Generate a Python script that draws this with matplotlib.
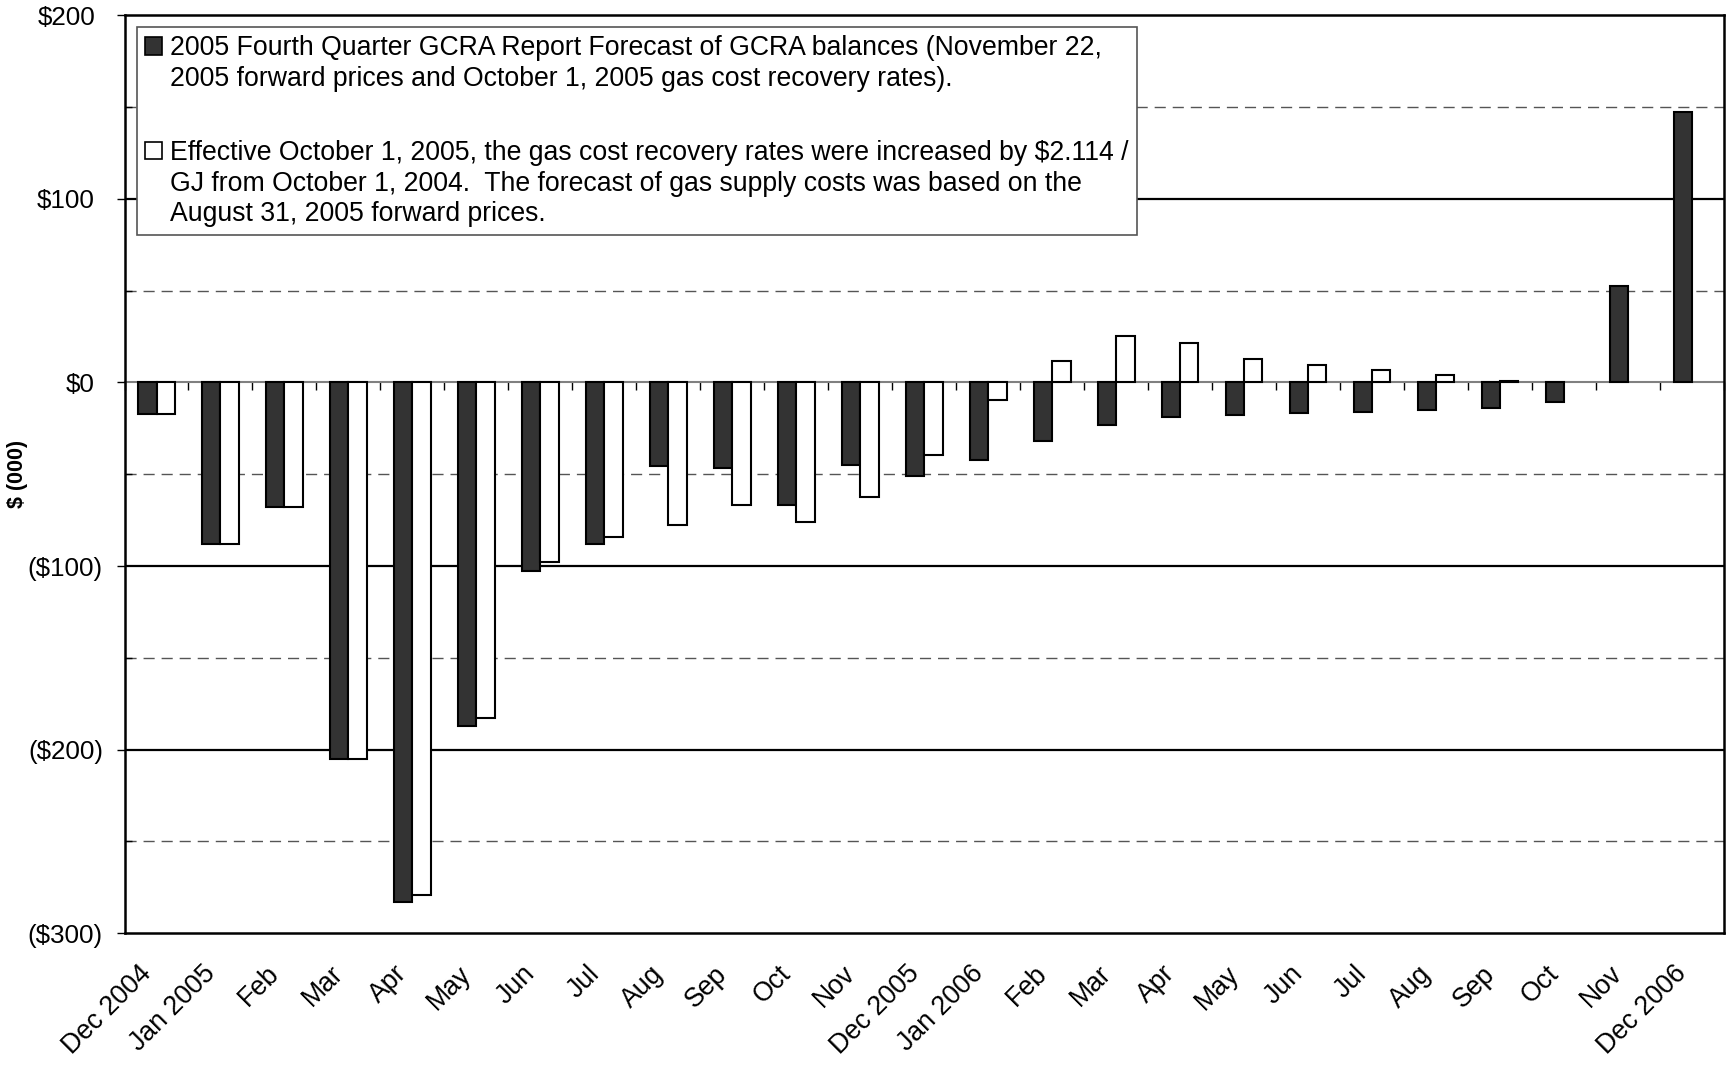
import numpy as np
import matplotlib
matplotlib.use("Agg")
import matplotlib.pyplot as plt
from matplotlib.patches import Patch
from matplotlib.ticker import MultipleLocator
from matplotlib.transforms import ScaledTranslation

plt.rcParams['font.family'] = ['Liberation Sans', 'DejaVu Sans']

# 月份類別
months = ['Dec 2004', 'Jan 2005', 'Feb', 'Mar', 'Apr', 'May', 'Jun', 'Jul', 'Aug',
          'Sep', 'Oct', 'Nov', 'Dec 2005', 'Jan 2006', 'Feb', 'Mar', 'Apr', 'May',
          'Jun', 'Jul', 'Aug', 'Sep', 'Oct', 'Nov', 'Dec 2006']

# 2005 Q4 forecast (dark bars), $000
q4_forecast = [-17, -88, -68, -205, -283, -187, -102.5, -88, -45.5, -46.5, -66.5, -45,
               -51, -42, -32, -23.3, -18.8, -17.5, -16.8, -16, -14.8, -14, -10.9, 52.5, 147.5]

# Oct 1 2005 rates / Aug 31 forward prices (white bars)
oct_rates = [-17, -88, -68, -205, -279.5, -183, -98, -84, -77.6, -66.7, -75.8, -62.6,
             -39.3, -9.6, 11.9, 25.3, 21.5, 12.7, 9.4, 6.8, 4.3, 0.8, np.nan, np.nan, np.nan]

y_ticks = [-300, -200, -100, 0, 100, 200]

legend_lines_1 = ['2005 Fourth Quarter GCRA Report Forecast of GCRA balances (November 22,',
                  '2005 forward prices and October 1, 2005 gas cost recovery rates).']
legend_lines_2 = ['Effective October 1, 2005, the gas cost recovery rates were increased by \\$2.114 /',
                  'GJ from October 1, 2004.  The forecast of gas supply costs was based on the',
                  'August 31, 2005 forward prices.']

FS = 19.2
dark = '#333333'


def money(v):
    if v >= 0:
        return f"${v:.0f}"
    return f"(${-v:.0f})"


fig = plt.figure(figsize=(17.27, 10.65), dpi=100)
ax = fig.add_axes([0.0721, 0.1239, 0.9262, 0.8616])

x = np.arange(len(months))
w = 1 / 3.5
ax.bar(x - w / 2, q4_forecast, w, color=dark, edgecolor='black', linewidth=1.5, zorder=3)
ax.bar(x + w / 2, oct_rates, w, color='white', edgecolor='black', linewidth=1.5, zorder=3)

ax.set_xlim(-0.5, len(months) - 0.5)
ax.set_ylim(-300, 200)

# 格線：實線在每 100，虛線在 50
for v in [-200, -100, 100]:
    ax.axhline(v, color='black', linewidth=1.6, zorder=1)
for v in np.arange(-250, 200, 100):
    ax.axhline(v, color='#555555', linewidth=1.0, linestyle=(0, (8, 5)), zorder=1)

ax.set_yticks(y_ticks, [money(v) for v in y_ticks])
ax.yaxis.set_minor_locator(MultipleLocator(50))
ax.tick_params(axis='y', which='major', direction='out', length=6, width=1, labelsize=18.7, pad=9.5)
ax.tick_params(axis='y', which='minor', direction='in', length=5, width=1)
# Excel 的 $#,##0_) 格式：正數標籤右邊留一個 ")" 的寬度
for t, v in zip(ax.yaxis.get_major_ticks(), y_ticks):
    if v >= 0:
        t.label1.set_transform(t.label1.get_transform() +
                               ScaledTranslation(-0.08, 0, fig.dpi_scale_trans))

ax.set_ylabel('$ (000)', fontsize=15.5, fontweight='bold')
ax.yaxis.set_label_coords(-0.0605, 0.5)

ax.set_xticks(x)
ax.set_xticklabels(months, rotation=45, ha='right', fontsize=FS)
ax.tick_params(axis='x', which='major', length=0, pad=20)

for s in ax.spines.values():
    s.set_linewidth(1.8)
    s.set_color('black')

# 零線 + 類別分隔刻度
sec = ax.secondary_xaxis(0, transform=ax.transData)
sec.set_alignment('bottom')
sec.set_xticks(np.arange(-0.5, len(months), 1))
sec.tick_params(axis='x', direction='out', length=6, width=1, labelbottom=False, labeltop=False)
sec.spines['bottom'].set_color('#808080')
sec.spines['bottom'].set_linewidth(1.5)
sec.spines['bottom'].set_zorder(4)

blank = Patch(facecolor='none', edgecolor='none')
handles = [Patch(facecolor=dark, edgecolor='black', linewidth=1.2), blank, blank,
           Patch(facecolor='white', edgecolor='black', linewidth=1.2), blank, blank]
labels = [legend_lines_1[0], legend_lines_1[1], '',
          legend_lines_2[0], legend_lines_2[1], legend_lines_2[2]]
leg = ax.legend(handles, labels, loc='upper left', bbox_to_anchor=(0.0076, 0.987),
                borderaxespad=0, fontsize=FS, frameon=True, fancybox=False,
                framealpha=1, edgecolor='#555555', labelspacing=0.18,
                handlelength=0.65, handleheight=0.65, handletextpad=0.3, borderpad=0.3)
leg.get_frame().set_linewidth(1.2)
leg.get_texts()[2].set_fontsize(FS * 1.55)
leg.set_zorder(5)

fig.savefig('out.png', dpi=100)
